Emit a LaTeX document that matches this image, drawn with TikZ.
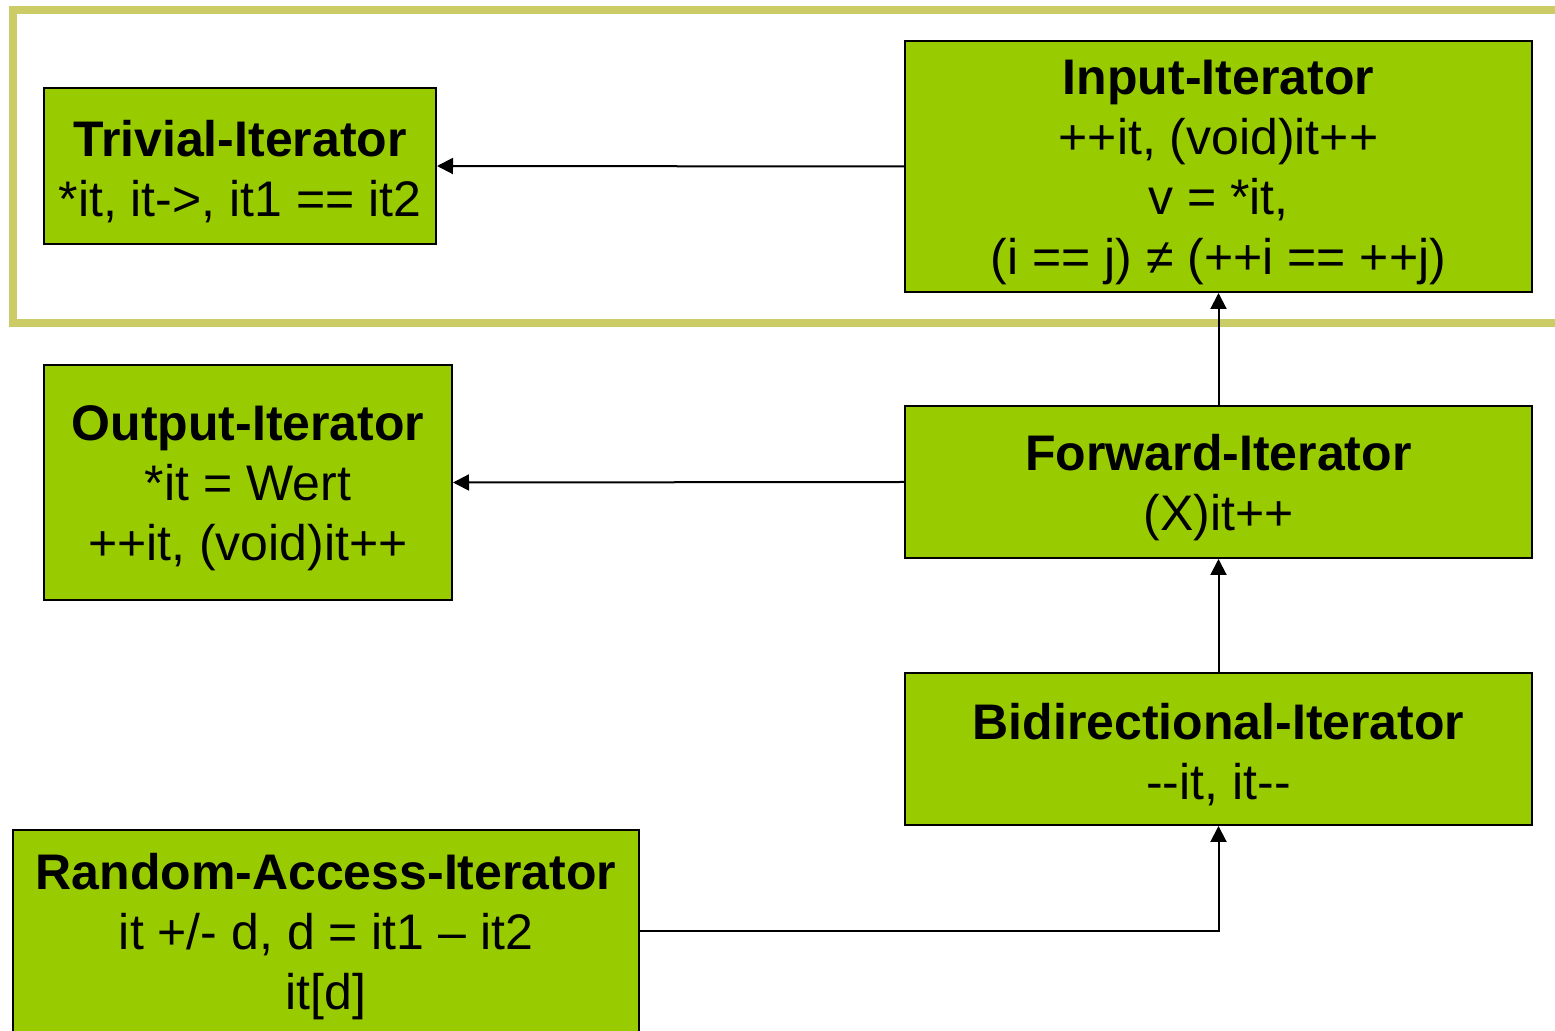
\documentclass[tikz,border=0pt]{standalone}
\usepackage{fontspec}
\setmainfont{Liberation Sans}
\usetikzlibrary{arrows.meta}
\definecolor{boxgreen}{HTML}{99CC00}
\definecolor{frameolive}{HTML}{CCCC66}
\begin{document}
\begin{tikzpicture}[x=0.5pt,y=-0.5pt,
  itbox/.style={draw=black, fill=boxgreen, line width=1pt, rectangle, inner sep=0pt},
  textlab/.style={align=center, inner sep=0pt, yshift=-3pt,
    font=\fontsize{25}{30}\selectfont},
  conn/.style={line width=1pt, -{Triangle[length=8pt,width=8pt]}}]
\useasboundingbox (0,0) rectangle (1555,1031);
\draw[frameolive, line width=4pt] (1570,10) -- (12.5,10) -- (12.5,323) -- (1570,323);

\node[itbox, minimum width=196pt, minimum height=78pt,
  label={[textlab]center:{\textbf{Trivial-Iterator}\\*it, it->, it1 == it2}}]
  (trivial) at (240,166) {};
\node[itbox, minimum width=313.5pt, minimum height=125.5pt,
  label={[textlab]center:{\textbf{Input-Iterator}\\++it, (void)it++\\v = *it,\\(i == j) ≠ (++i == ++j)}}]
  (input) at (1218.5,166.5) {};
\node[itbox, minimum width=204pt, minimum height=117.5pt,
  label={[textlab]center:{\textbf{Output-Iterator}\\*it = Wert\\++it, (void)it++}}]
  (output) at (248,482.5) {};
\node[itbox, minimum width=313.5pt, minimum height=76pt,
  label={[textlab]center:{\textbf{Forward-Iterator}\\(X)it++}}]
  (forward) at (1218.5,482) {};
\node[itbox, minimum width=313.5pt, minimum height=76pt,
  label={[textlab]center:{\textbf{Bidirectional-Iterator}\\-{}-it, it-{}-}}]
  (bidir) at (1218.5,749) {};
\node[itbox, minimum width=313pt, minimum height=101pt,
  label={[textlab]center:{\textbf{Random-Access-Iterator}\\it +/- d, d = it1 – it2\\it[d]}}]
  (random) at (326,931) {};

\draw[conn] (input.west) -- (trivial.east);
\draw[conn] (forward.west) -- (output.east);
\draw[conn] (forward.north) -- (input.south);
\draw[conn] (bidir.north) -- (forward.south);
\draw[conn] (random.east) -- (bidir.south |- random.east) -- (bidir.south);
\end{tikzpicture}
\end{document}
